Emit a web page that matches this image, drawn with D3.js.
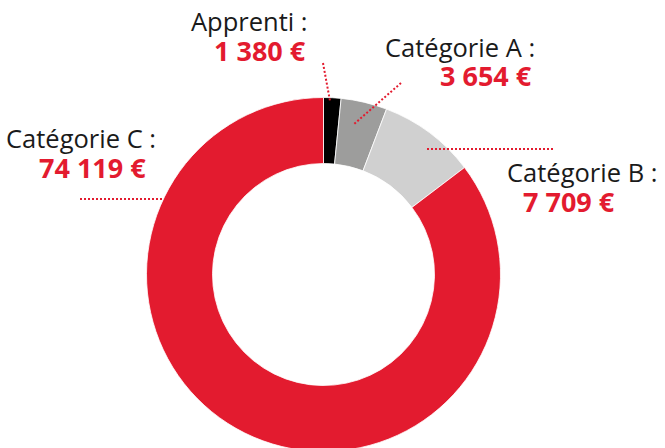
<!DOCTYPE html>
<html lang="fr">
<head>
    <meta charset="utf-8" />
    <title>Répartition</title>
    <script src="https://cdnjs.cloudflare.com/ajax/libs/d3/7.8.5/d3.min.js"></script>
    <style>
        body { margin: 0; background: #fff; }
        svg { display: block; }
        text { font-family: "Open Sans", sans-serif; }
    </style>
</head>
<body>
    <div id="vis"></div>
    <script type="text/javascript">
        // data
        var categories = ["Apprenti", "Catégorie A", "Catégorie B", "Catégorie C"];
        var values = [1380, 3654, 7709, 74119];
        var valueLabels = ["1 380 €", "3 654 €", "7 709 €", "74 119 €"];
        var colors = ["#000000", "#9d9d9c", "#d0d0d0", "#e31b2f"];

        var width = 665, height = 448;
        var cx = 323.5, cy = 274.5;
        var outerR = 177, innerR = 111;
        var red = "#e31b2f";

        // label layout: name / value positions and leader line
        var labelPos = [
            { nx: 191, ny: 31, vx: 214, vy: 61, line: [[323, 63], [330, 101]] },
            { nx: 385, ny: 57, vx: 440, vy: 86, line: [[401, 83], [353, 125]] },
            { nx: 507, ny: 182, vx: 523, vy: 212, line: [[553, 149], [426, 149]] },
            { nx: 6, ny: 148, vx: 39, vy: 178, line: [[80, 199], [163, 199]] }
        ];

        var svg = d3.select("#vis").append("svg")
            .attr("width", width)
            .attr("height", height);

        var pie = d3.pie().sort(null).value(function (d) { return d; });
        var arc = d3.arc().innerRadius(innerR).outerRadius(outerR);

        var g = svg.append("g").attr("transform", "translate(" + cx + "," + cy + ")");
        g.selectAll("path")
            .data(pie(values))
            .enter()
            .append("path")
            .attr("d", arc)
            .attr("fill", function (d, i) { return colors[i]; })
            .attr("stroke", "#fff")
            .attr("stroke-width", 0.8);

        // leader lines
        svg.selectAll("line.leader")
            .data(labelPos)
            .enter()
            .append("line")
            .attr("class", "leader")
            .attr("x1", function (d) { return d.line[0][0]; })
            .attr("y1", function (d) { return d.line[0][1]; })
            .attr("x2", function (d) { return d.line[1][0]; })
            .attr("y2", function (d) { return d.line[1][1]; })
            .attr("stroke", red)
            .attr("stroke-width", 2)
            .attr("stroke-dasharray", "2,2");

        // labels
        categories.forEach(function (c, i) {
            var p = labelPos[i];
            svg.append("text")
                .attr("x", p.nx)
                .attr("y", p.ny)
                .attr("font-size", 25.5)
                .attr("fill", "#1a1a1a")
                .text(c + " :");
            svg.append("text")
                .attr("x", p.vx)
                .attr("y", p.vy)
                .attr("font-size", 27)
                .attr("font-weight", "bold")
                .attr("fill", red)
                .text(valueLabels[i]);
        });
    </script>
</body>
</html>
